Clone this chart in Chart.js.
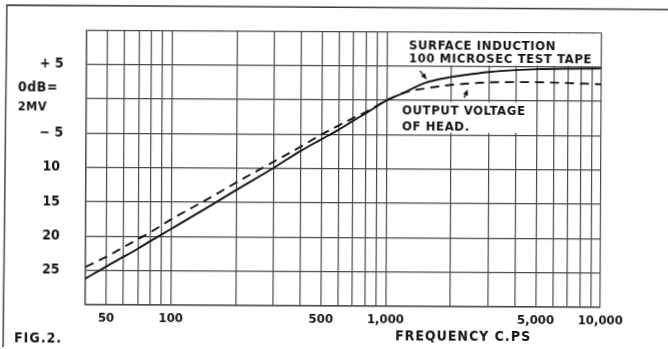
<!DOCTYPE html>
<html>
<head>
<meta charset="utf-8">
<script src="https://cdn.jsdelivr.net/npm/chart.js@4/dist/chart.umd.min.js"></script>
<style>
  html, body { margin: 0; padding: 0; background: #fff; overflow: hidden; }
  #sheet { width: 668px; height: 349px; transform: rotate(0.3deg); transform-origin: 334px 175px; }
  canvas { display: block; background: #fff; }
</style>
</head>
<body>
<div id="sheet"><canvas id="fig" width="668" height="349"></canvas></div>
<script>
// Frequency response of a reproducing head: cycles per second vs. dB (0 dB = 2 mV)
const frequencies = [40, 50, 60, 70, 80, 100, 150, 200, 300, 400, 500, 600, 700, 800, 900,
                     1000, 1200, 1500, 2000, 2500, 3000, 4000, 5000, 7000, 10000];
// Surface induction, 100 microsec test tape
const surfaceInduction = [-26.2, -24.4, -23.0, -21.8, -20.7, -18.9, -15.6, -13.2, -9.9, -7.4, -5.7, -4.3, -3.0, -1.9, -0.9,
                          0.0, 1.1, 2.55, 3.45, 3.9, 4.2, 4.5, 4.65, 4.75, 4.8];
// Output voltage of head
const headOutput = [-24.5, -23.0, -21.6, -20.4, -19.4, -17.5, -14.4, -12.1, -9.0, -6.8, -5.0, -3.7, -2.6, -1.7, -0.8,
                    0.0, 1.1, 1.75, 2.3, 2.55, 2.7, 2.75, 2.75, 2.65, 2.5];

// Log-paper rulings and the ones that carry a figure
const xGridValues = [40, 50, 60, 70, 80, 90, 100, 200, 300, 400, 500, 600, 700, 800, 900,
                     1000, 2000, 3000, 4000, 5000, 6000, 7000, 8000, 9000, 10000];
const xLabelValues = [50, 100, 500, 1000, 5000, 10000];
const xLabelTexts = ['50', '100', '500', '1,000', '5,000', '10,000'];
const yGridValues = [10, 5, 0, -5, -10, -15, -20, -25, -30];
const yLabelTexts = ['', '+ 5', ['0dB=', '2MV'], '\u2212 5', '10', '15', '20', '25', ''];

const curveNotes = [
  { lines: ['SURFACE INDUCTION', '100 MICROSEC TEST TAPE'], f: 1265, db: [7.95, 6.05] },
  { lines: ['OUTPUT VOLTAGE', 'OF HEAD.'], f: 1180, db: [-1.6, -3.8] }
];
const xTitle = 'FREQUENCY C.PS';
const figTitle = 'FIG.2.';

const FACE = '"DejaVu Sans Condensed", "Liberation Sans Narrow", "DejaVu Sans", sans-serif';
const INK = '#141414';
const RULE = '#4a4a4a';

function drawArrow(ctx, x1, y1, x2, y2) {
  const a = Math.atan2(y2 - y1, x2 - x1);
  const len = 6, half = 2.6;
  ctx.beginPath();
  ctx.moveTo(x1, y1);
  ctx.lineTo(x2 - Math.cos(a) * len * 0.6, y2 - Math.sin(a) * len * 0.6);
  ctx.stroke();
  ctx.beginPath();
  ctx.moveTo(x2, y2);
  ctx.lineTo(x2 - Math.cos(a) * len - Math.sin(a) * half, y2 - Math.sin(a) * len + Math.cos(a) * half);
  ctx.lineTo(x2 - Math.cos(a) * len + Math.sin(a) * half, y2 - Math.sin(a) * len - Math.cos(a) * half);
  ctx.closePath();
  ctx.fill();
}

const figureNotes = {
  id: 'figureNotes',
  beforeDatasetsDraw(chart) {
    // clear the rulings behind the curve notes
    const { ctx, chartArea: ca, scales: { x, y } } = chart;
    ctx.save();
    ctx.fillStyle = '#fff';
    const l1 = x.getPixelForValue(1020);
    ctx.fillRect(l1, ca.top + 1, ca.right - 1 - l1, y.getPixelForValue(5) - 1 - (ca.top + 1));
    const l2 = x.getPixelForValue(1130), r2 = x.getPixelForValue(4700);
    const t2 = y.getPixelForValue(-0.2), b2 = y.getPixelForValue(-4.65);
    ctx.fillRect(l2, t2, r2 - l2, b2 - t2);
    ctx.restore();
  },
  afterDraw(chart) {
    const { ctx, chartArea: ca, scales: { x, y } } = chart;
    ctx.save();
    ctx.fillStyle = INK;
    ctx.strokeStyle = INK;
    ctx.textBaseline = 'middle';
    ctx.textAlign = 'left';

    // notes beside the curves
    ctx.font = 'bold 13px ' + FACE;
    ctx.letterSpacing = '0.6px';
    curveNotes.forEach(n => {
      n.lines.forEach((t, i) => ctx.fillText(t, x.getPixelForValue(n.f), y.getPixelForValue(n.db[i])));
    });

    // leader arrows
    ctx.lineWidth = 1.4;
    drawArrow(ctx, x.getPixelForValue(1428), y.getPixelForValue(4.32), x.getPixelForValue(1535), y.getPixelForValue(3.07));
    drawArrow(ctx, x.getPixelForValue(2300), y.getPixelForValue(0.45), x.getPixelForValue(2385), y.getPixelForValue(1.65));

    // reference level label at 0 dB
    const zeroLabel = yLabelTexts[yGridValues.indexOf(0)];
    const y0 = y.getPixelForValue(0);
    ctx.letterSpacing = '0.5px';
    ctx.font = 'bold 14px ' + FACE;
    ctx.fillText(zeroLabel[0], 17.5, y0 - 10.5);
    ctx.font = 'bold 12.5px ' + FACE;
    ctx.fillText(zeroLabel[1], 17.5, y0 + 9);

    // axis title and figure number
    ctx.font = 'bold 14px ' + FACE;
    ctx.letterSpacing = '1px';
    ctx.textAlign = 'center';
    ctx.fillText(xTitle, x.getPixelForValue(2300), 336.8);
    ctx.textAlign = 'left';
    ctx.fillText(figTitle, 15, 340.5);

    // page frame
    ctx.strokeStyle = '#3c3c3c';
    ctx.lineWidth = 1.4;
    ctx.beginPath();
    ctx.moveTo(4, 349);
    ctx.lineTo(6, 6.7);
    ctx.lineTo(668, 7.8);
    ctx.stroke();
    ctx.restore();
  }
};

new Chart(document.getElementById('fig'), {
  type: 'line',
  data: {
    datasets: [
      {
        label: 'Surface induction',
        data: frequencies.map((f, i) => ({ x: f, y: surfaceInduction[i] })),
        borderColor: INK,
        borderWidth: 1.9,
        pointRadius: 0,
        cubicInterpolationMode: 'monotone',
        fill: false
      },
      {
        label: 'Output voltage of head',
        data: frequencies.map((f, i) => ({ x: f, y: headOutput[i] })),
        borderColor: INK,
        borderWidth: 1.9,
        borderDash: [9, 6],
        pointRadius: 0,
        cubicInterpolationMode: 'monotone',
        fill: false
      }
    ]
  },
  options: {
    responsive: false,
    animation: false,
    devicePixelRatio: 1,
    events: [],
    layout: { padding: { left: 0, top: 30.5, right: 67, bottom: 0 } },
    plugins: { legend: { display: false }, tooltip: { enabled: false } },
    scales: {
      x: {
        type: 'logarithmic',
        position: 'bottom',
        min: 40,
        max: 10000,
        afterBuildTicks: s => { s.ticks = xGridValues.map(v => ({ value: v })); },
        afterFit: s => { s.height = 43; },
        grid: { color: RULE, lineWidth: 1.2, drawTicks: false },
        border: { color: RULE, width: 1.4 },
        ticks: {
          autoSkip: false,
          maxRotation: 0,
          padding: 6,
          color: INK,
          font: { family: FACE, size: 13, weight: 'bold' },
          callback: v => {
            const k = xLabelValues.indexOf(v);
            return k >= 0 ? xLabelTexts[k] : '';
          }
        }
      },
      y: {
        type: 'linear',
        position: 'left',
        min: -30,
        max: 10,
        afterBuildTicks: s => { s.ticks = yGridValues.map(v => ({ value: v })); },
        afterFit: s => { s.width = 86; },
        grid: { color: RULE, lineWidth: 1.2, drawTicks: false },
        border: { color: RULE, width: 1.4 },
        ticks: {
          padding: 23,
          crossAlign: 'center',
          color: INK,
          font: { family: FACE, size: 14, weight: 'bold' },
          callback: v => {
            const t = yLabelTexts[yGridValues.indexOf(v)];
            return Array.isArray(t) ? '' : t;
          }
        }
      }
    }
  },
  plugins: [figureNotes]
});
</script>
</body>
</html>
